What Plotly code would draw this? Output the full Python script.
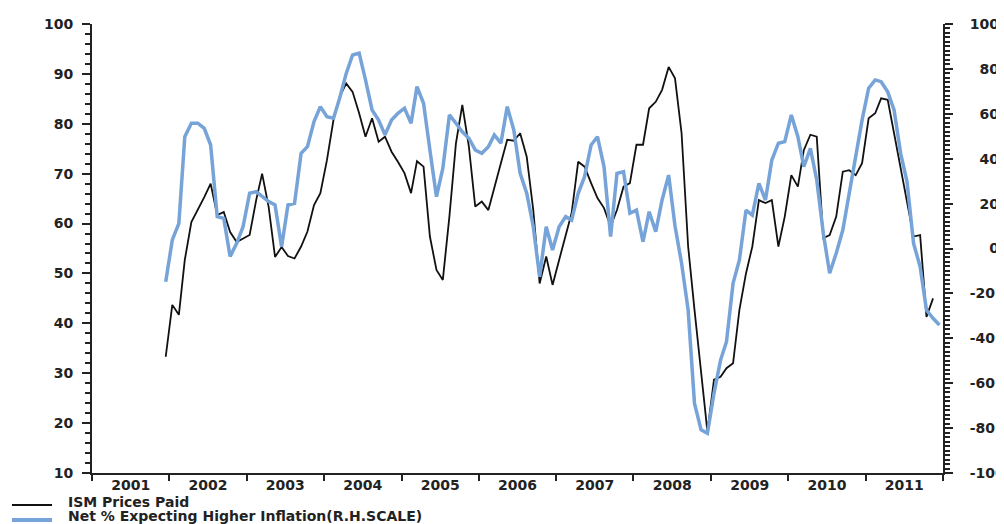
import pandas as pd
import plotly.graph_objects as go

# monthly readings, Dec 2001 onwards
ism_prices_paid = [
    33.3, 43.7, 41.7, 52.7, 60.3, 62.7, 65.3, 68.0, 61.7, 62.3, 58.3, 56.3,
    57.0, 57.7, 64.7, 70.0, 63.3, 53.3, 55.3, 53.5, 53.0, 55.4, 58.4, 63.7,
    66.1, 72.7, 80.8, 85.4, 88.1, 86.4, 82.1, 77.4, 81.1, 76.4, 77.4, 74.4,
    72.4, 70.1, 66.1, 72.5, 71.4, 57.4, 50.7, 48.7, 61.4, 76.1, 83.8, 75.4,
    63.4, 64.4, 62.7, 67.4, 72.1, 76.8, 76.6, 78.1, 73.4, 62.7, 48.0, 53.4,
    47.7, 52.7, 57.4, 62.1, 72.4, 71.4, 68.1, 65.1, 63.1, 59.4, 62.7, 67.4,
    68.1, 75.8, 75.8, 83.1, 84.4, 86.8, 91.4, 89.1, 78.1, 55.4, 42.7, 30.0,
    18.3, 28.7, 29.3, 31.0, 32.0, 42.7, 50.0, 55.4, 64.7, 64.1, 64.7, 55.4,
    61.4, 69.7, 67.4, 74.7, 77.8, 77.4, 57.1, 57.7, 61.4, 70.4, 70.7, 69.7,
    72.1, 81.1, 82.1, 85.1, 84.8, 78.1, 71.1, 64.7, 57.4, 57.7, 41.3, 45.0,
]

net_expecting_higher = [
    -14.8, 3.8, 11.2, 49.8, 55.8, 55.8, 53.5, 46.1, 14.2, 13.4, -3.6, 2.3,
    9.7, 24.6, 25.3, 23.1, 20.9, 19.4, 0.8, 19.4, 20.1, 42.4, 45.4, 56.5,
    63.2, 58.7, 58.0, 66.9, 78.0, 86.2, 87.0, 75.1, 61.7, 57.2, 50.6, 57.2,
    60.2, 62.5, 55.8, 72.1, 64.7, 43.9, 23.1, 35.7, 59.5, 55.8, 52.0, 49.1,
    43.9, 42.4, 45.3, 50.6, 46.9, 63.2, 52.8, 33.5, 24.6, 9.7, -12.6, 9.7,
    -0.7, 9.7, 14.2, 12.7, 24.6, 32.0, 46.1, 49.8, 36.4, 5.3, 33.5, 34.2,
    15.7, 17.1, 3.0, 16.4, 7.5, 21.6, 32.7, 10.0, -6.6, -27.4, -69.0, -80.8,
    -82.3, -64.5, -49.7, -41.5, -15.5, -5.1, 17.1, 14.9, 29.0, 21.6, 39.4, 46.9,
    47.6, 59.5, 49.8, 36.4, 44.6, 30.5, 6.8, -11.0, -2.1, 8.2, 24.6, 42.4,
    57.2, 71.4, 75.1, 74.3, 69.8, 61.7, 42.4, 29.8, 2.3, -8.1, -27.4, -31.1,
    -34.1,
]

right_tick_vals = [100, 80, 60, 40, 20, 0, -20, -40, -60, -80, -100]
right_tick_text = ["100", "\u200780", "\u200760", "\u200740", "\u200720", "\u2007\u20070",
                   "-20", "-40", "-60", "-80", "-100"]

series_names = ["ISM Prices Paid", "Net % Expecting Higher Inflation(R.H.SCALE)"]
series_colors = ["#111111", "#76a3d8"]

start_month = "2001-12-01"

# the page body adds an 8px margin, so the figure is drawn 8px in from the window corner
PAGE_PAD = 8
W, H = 1004 - PAGE_PAD, 524 - PAGE_PAD
L, R, T, B = 84, 61, 16, 51
plot_w, plot_h = W - L - R, H - T - B


def month_dates(n):
    return pd.date_range(start_month, periods=n, freq="MS") + pd.Timedelta(days=14)


def px_x(x):
    # window pixel -> paper fraction
    return (x - PAGE_PAD - L) / plot_w


def px_y(y):
    return (H - B - (y - PAGE_PAD)) / plot_h


tick_font = dict(family="DejaVu Sans", size=14, color="#222222", weight="bold")

fig = go.Figure()

fig.add_trace(go.Scatter(
    x=month_dates(len(net_expecting_higher)), y=net_expecting_higher,
    mode="lines", name=series_names[1],
    line=dict(color=series_colors[1], width=3.5),
    yaxis="y2",
))

fig.add_trace(go.Scatter(
    x=month_dates(len(ism_prices_paid)), y=ism_prices_paid,
    mode="lines", name=series_names[0],
    line=dict(color=series_colors[0], width=1.8),
))

# legend drawn by hand at the bottom-left corner
legend_rows = [(505, 502, 1.8), (520, 516, 4)]
for (line_y, text_y, lw), name, color in zip(legend_rows, series_names, series_colors):
    fig.add_shape(type="line", xref="paper", yref="paper",
                  x0=px_x(12), x1=px_x(52), y0=px_y(line_y), y1=px_y(line_y),
                  line=dict(color=color, width=lw))
    fig.add_annotation(xref="paper", yref="paper", x=px_x(66), y=px_y(text_y),
                       xanchor="left", yanchor="middle", showarrow=False, text=name,
                       font=dict(family="DejaVu Sans", size=14, color="#222222", weight="bold"))

axis_common = dict(
    showgrid=False, zeroline=False, showline=True, linecolor="#222222", linewidth=2,
    ticks="outside", ticklen=8, tickwidth=2, tickcolor="#222222", tickfont=tick_font,
)

fig.update_layout(
    width=W, height=H,
    paper_bgcolor="white", plot_bgcolor="white",
    margin=dict(l=L, r=R, t=T, b=B, autoexpand=False),
    showlegend=False,
    xaxis=dict(
        **axis_common,
        type="date", range=["2001-01-01", "2012-01-01"],
        tick0="2001-01-01", dtick="M12", tickformat="%Y", ticklabelmode="period",
        tickangle=0,
    ),
    yaxis=dict(
        **axis_common,
        range=[10, 100], dtick=10, tick0=10, ticklabelstandoff=6,
        minor=dict(dtick=2, ticks="outside", ticklen=5, tickwidth=1.5, tickcolor="#222222"),
    ),
    yaxis2=dict(
        **axis_common,
        overlaying="y", side="right",
        range=[-100, 100], tickmode="array",
        tickvals=right_tick_vals, ticktext=right_tick_text, ticklabelstandoff=14,
        minor=dict(dtick=2, ticks="outside", ticklen=5, tickwidth=1.5, tickcolor="#222222"),
    ),
)
fig.update_xaxes(ticklen=6, ticklabelstandoff=-8)

fig.write_html("out.html")
